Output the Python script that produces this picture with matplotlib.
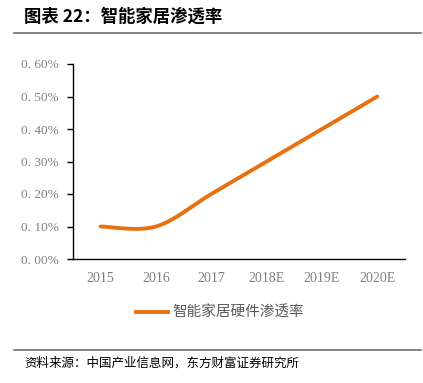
import matplotlib
matplotlib.use("Agg")
import matplotlib.pyplot as plt
from matplotlib.path import Path
from matplotlib.patches import PathPatch
from matplotlib.lines import Line2D
import numpy as np

plt.rcParams['font.family'] = ['Liberation Serif', 'Noto Sans CJK SC', 'DejaVu Sans']

years = ['2015', '2016', '2017', '2018E', '2019E', '2020E']
rate = [0.10, 0.10, 0.20, 0.30, 0.40, 0.50]
yticks = [0.0, 0.1, 0.2, 0.3, 0.4, 0.5, 0.6]
ytick_labels = ['0. 00%', '0. 10%', '0. 20%', '0. 30%', '0. 40%', '0. 50%', '0. 60%']
series_name = '智能家居硬件渗透率'
title = '图表 22：智能家居渗透率'
source = '资料来源：中国产业信息网，东方财富证券研究所'

orange = '#E8700F'

fig = plt.figure(figsize=(4.23, 3.83), dpi=100)
ax = fig.add_axes([73 / 423, 1 - 259 / 383, (405 - 73) / 423, (259 - 64) / 383])

# smoothed line like Excel (Catmull-Rom to bezier)
x = np.arange(len(years), dtype=float)
y = np.array(rate)
verts = [(x[0], y[0])]
codes = [Path.MOVETO]
t = 1 / 6
for i in range(len(x) - 1):
    p0 = (x[i - 1], y[i - 1]) if i > 0 else (x[i], y[i])
    p1 = (x[i], y[i])
    p2 = (x[i + 1], y[i + 1])
    p3 = (x[i + 2], y[i + 2]) if i + 2 < len(x) else (x[i + 1], y[i + 1])
    c1 = (p1[0] + (p2[0] - p0[0]) * t, p1[1] + (p2[1] - p0[1]) * t)
    c2 = (p2[0] - (p3[0] - p1[0]) * t, p2[1] - (p3[1] - p1[1]) * t)
    verts += [c1, c2, p2]
    codes += [Path.CURVE4] * 3
ax.add_patch(PathPatch(Path(verts, codes), facecolor='none', edgecolor=orange,
                       lw=2.8, capstyle='round'))

ax.set_xlim(-0.5, len(years) - 0.5)
ax.set_ylim(0, 0.6)
ax.set_xticks(x)
ax.set_xticklabels(years)
ax.set_yticks(yticks)
ax.set_yticklabels(ytick_labels)
ax.tick_params(axis='x', length=0, pad=9, labelsize=10, labelcolor='#7f7f7f')
ax.tick_params(axis='y', length=4, width=1, direction='out', pad=6, labelsize=9.5, labelcolor='#7f7f7f')
for s in ['top', 'right']:
    ax.spines[s].set_visible(False)
for s in ['left', 'bottom']:
    ax.spines[s].set_color('black')
    ax.spines[s].set_linewidth(1)

handle = Line2D([], [], color=orange, lw=2.8)
fig.legend([handle], [series_name], loc='center', bbox_to_anchor=(0.52, 1 - 313 / 383),
           frameon=False, handlelength=2.2, handletextpad=0.3,
           prop={'family': ['Noto Sans CJK SC'], 'size': 10.5}, labelcolor='#595959')

fig.text(24 / 423, 1 - 17 / 383, title, fontsize=12.5, fontweight='bold',
         family=['Noto Sans CJK SC'], va='center')
fig.add_artist(Line2D([14 / 423, 421 / 423], [1 - 33 / 383] * 2, color='#707070', lw=1.2))
fig.add_artist(Line2D([14 / 423, 421 / 423], [1 - 350 / 383] * 2, color='#707070', lw=1.2))
fig.text(24 / 423, 1 - 363 / 383, source, fontsize=9, family=['Noto Sans CJK SC'], va='center')

fig.savefig('out.png', dpi=100)
